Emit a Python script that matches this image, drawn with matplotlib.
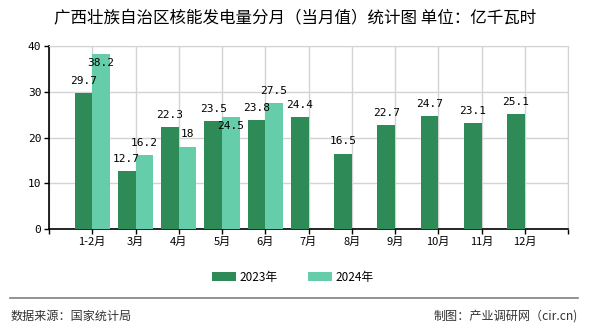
import matplotlib

matplotlib.use("Agg")
import matplotlib.pyplot as plt
import numpy as np

plt.rcParams["font.family"] = ["Noto Sans CJK SC", "DejaVu Sans"]

# --- dados
meses = ["1-2月", "3月", "4月", "5月", "6月", "7月", "8月", "9月", "10月", "11月", "12月"]
valores_2023 = [29.7, 12.7, 22.3, 23.5, 23.8, 24.4, 16.5, 22.7, 24.7, 23.1, 25.1]
valores_2024 = [38.2, 16.2, 18, 24.5, 27.5]
series = ["2023年", "2024年"]

cor_2023 = "#2e8b57"
cor_2024 = "#66cdaa"
cinza = "#d3d3d3"

fig = plt.figure(figsize=(5.9, 3.3), dpi=100)
ax = fig.add_axes([49 / 590, 1 - 229 / 330, (568 - 49) / 590, (229 - 46) / 330])

x = np.arange(len(meses))
w = 0.41
b1 = ax.bar(x[: len(valores_2023)] - w / 2, valores_2023, w, color=cor_2023, label=series[0], zorder=3)
b2 = ax.bar(x[: len(valores_2024)] + w / 2, valores_2024, w, color=cor_2024, label=series[1], zorder=3)

# rótulos de valor (alguns deslocados para dentro da barra, como no original)
desloc_2024 = {0: -6.0, 3: -6.5}


def fmt(v):
    return f"{v:g}"


for i, r in enumerate(b1):
    ax.annotate(fmt(valores_2023[i]), (r.get_x() + r.get_width() / 2, r.get_height()),
                xytext=(0, 8.8), textcoords="offset points", ha="center", va="center",
                fontsize=8, family="DejaVu Sans Mono", zorder=5)
for i, r in enumerate(b2):
    ax.annotate(fmt(valores_2024[i]), (r.get_x() + r.get_width() / 2, r.get_height()),
                xytext=(0, desloc_2024.get(i, 8.8)), textcoords="offset points", ha="center",
                va="center", fontsize=8, family="DejaVu Sans Mono", zorder=5)

ax.set_xlim(-1, len(meses))
ax.set_ylim(0, 40)
ax.set_xticks(np.arange(-1, len(meses) + 1))
ax.set_xticklabels([""] + meses + [""], fontsize=8)
ax.set_yticks([0, 10, 20, 30, 40])
ax.set_yticklabels(["0", "10", "20", "30", "40"], fontsize=8, family="DejaVu Sans Mono")
ax.tick_params(axis="both", direction="out", length=3.5, width=1, color="black", pad=2)
ax.grid(True, color=cinza, linewidth=1, zorder=0)
ax.set_axisbelow(True)
for lado in ("top", "right"):
    ax.spines[lado].set_color(cinza)
for lado in ("left", "bottom"):
    ax.spines[lado].set_color("black")
    ax.spines[lado].set_linewidth(1.2)

# título
fig.text(0.5, 1 - 18 / 330, "广西壮族自治区核能发电量分月（当月值）统计图 单位：亿千瓦时",
         ha="center", va="center", fontsize=11.9)

# legenda
fig.legend(handles=[b1, b2], labels=series, loc="center", bbox_to_anchor=(293 / 590, 1 - 277 / 330),
           ncol=2, frameon=False, fontsize=8.5, handlelength=2.0, handleheight=0.8,
           handletextpad=0.3, columnspacing=2.6)

# rodapé
fig.add_artist(plt.Line2D([10 / 590, 578 / 590], [1 - 298 / 330, 1 - 298 / 330],
                          color="#808080", linewidth=1.2))
fig.text(11 / 590, 1 - 316 / 330, "数据来源：国家统计局", ha="left", va="center", fontsize=8.7, color="#333333")
fig.text(578 / 590, 1 - 316 / 330, "制图：产业调研网（cir.cn)", ha="right", va="center", fontsize=8.7,
         color="#333333")

fig.savefig("out.png", dpi=100)
